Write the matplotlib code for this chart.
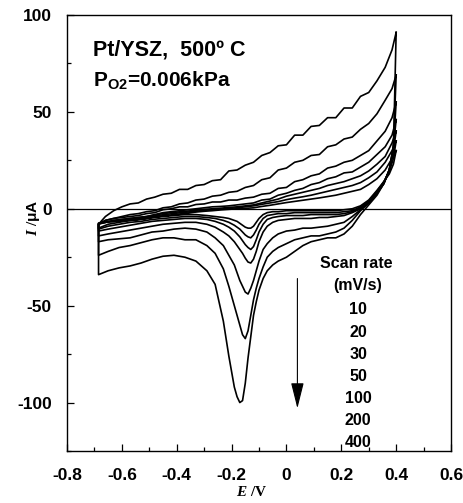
import matplotlib
matplotlib.use("Agg")
import matplotlib.pyplot as plt
from matplotlib.ticker import MultipleLocator

plt.rcParams["font.family"] = "Liberation Sans"
plt.rcParams["axes.unicode_minus"] = False
plt.rcParams["mathtext.fontset"] = "custom"
plt.rcParams["mathtext.rm"] = "Liberation Serif:bold"
plt.rcParams["mathtext.it"] = "Liberation Serif:italic:bold"
plt.rcParams["mathtext.sf"] = "Liberation Sans:bold"

# ------------------------------------------------------------
# digitised cyclic voltammograms (E in V, I in uA)
# reverse scan (0.40 V -> -0.685 V), shared potential grid
E_REV = [0.40, 0.385, 0.36, 0.33, 0.30, 0.27, 0.24, 0.21, 0.18, 0.15,
         0.12, 0.09, 0.06, 0.03, 0.00, -0.03, -0.06, -0.09, -0.12, -0.15,
         -0.18, -0.21, -0.24, -0.27, -0.30, -0.33, -0.36, -0.39, -0.42, -0.45,
         -0.48, -0.51, -0.54, -0.57, -0.60, -0.63, -0.66, -0.685]
# forward scan (-0.685 V -> 0.40 V), shared potential grid
E_FWD = [-0.685, -0.65, -0.61, -0.57, -0.53, -0.49, -0.45, -0.41, -0.37, -0.33,
         -0.29, -0.26, -0.23, -0.21, -0.19, -0.18, -0.17, -0.16, -0.15, -0.14,
         -0.13, -0.12, -0.11, -0.10, -0.085, -0.07, -0.05, -0.03, 0.00, 0.03,
         0.06, 0.09, 0.12, 0.15, 0.18, 0.21, 0.24, 0.27, 0.30, 0.33,
         0.355, 0.375, 0.39, 0.40]

SCAN_RATES = ["10", "20", "30", "50", "100", "200", "400"]

I_REV_10 = [30, 26, 20, 15.5, 12.5, 10, 9, 8, 7, 6.3,
            5.6, 5, 4.4, 3.8, 3.2, 2.5, 1.8, 1.2, 0.5, 0.2,
            0, -0.3, -0.6, -1, -1.3, -1.7, -2.2, -2.7, -3.2, -3.7,
            -4.3, -5, -5.5, -6, -6, -6.5, -7, -7.5]
I_REV_20 = [35, 30, 24, 19, 16, 13.5, 12, 11, 10, 9,
            8, 7, 6.2, 5.5, 4.7, 3.7, 3, 2.3, 1.5, 1,
            0.5, 0.2, -0.2, -0.5, -0.8, -1.3, -1.7, -2.1, -2.6, -3.1,
            -3.7, -4.5, -5, -5.5, -6, -6.5, -7, -7.5]
I_REV_30 = [40, 34, 27, 23, 19.5, 17, 15.5, 14, 13, 12,
            10.5, 9.5, 8.5, 7.5, 6.5, 5, 4, 3, 2, 1.5,
            1, 0.7, 0.3, 0, -0.3, -0.8, -1.2, -1.6, -2, -2.5,
            -3.2, -4, -4.5, -5, -5.5, -6, -7, -7.5]
I_REV_50 = [46, 38, 32, 28, 24, 21.5, 19, 18.5, 16.5, 15.5,
            13.5, 12.5, 10.5, 9.5, 8, 7, 5, 4.5, 3, 2.5,
            2, 1.5, 1.2, 1, 0.5, 0, -0.5, -1, -1.5, -2,
            -3, -4, -4.5, -5, -5.5, -6, -7, -8]
I_REV_100 = [55, 47, 40, 35, 30, 27.5, 25, 24, 22, 21,
             18, 17, 15, 14, 11, 10.5, 8, 7.5, 6, 5.5,
             4.5, 4.5, 3.5, 3.5, 2.5, 2.2, 1, 1, 0, -0.5,
             -2, -2.5, -3.5, -4, -4.5, -5, -6, -8]
I_REV_200 = [69, 62, 56, 49, 44, 41, 37, 36, 33, 32,
             28, 27.5, 25, 24, 21, 20, 16, 15, 12, 11,
             9, 8.5, 7, 6.5, 5, 4.5, 3, 2.5, 1, 0.5,
             -1, -1.5, -2.5, -3, -4, -5, -6, -8]
I_REV_400 = [91, 82, 73, 66, 60, 58, 52, 52, 47, 47,
             43, 42.5, 38, 38, 33, 32.5, 29, 27.5, 24, 22.5,
             20, 19.5, 15, 14.5, 12.5, 12, 10, 10, 8, 7.5,
             6, 5, 3, 2.5, 1, -1, -4, -8]

I_FWD_10 = [-10, -8, -7, -6, -5.5, -4.5, -4, -3.5, -3, -3,
            -3.5, -4, -4.5, -5, -6, -6.5, -7.5, -8.5, -9.5, -10,
            -10, -9, -7, -5, -3, -2, -1.5, -1.5, -1, -1,
            -1, -1, -1, -1, -1, -0.5, 0, 1.5, 4.5, 9.5,
            14, 18, 23, 30]
I_FWD_20 = [-10.5, -9, -8, -7, -6.5, -5.5, -5, -4.5, -4, -4,
            -4.5, -5, -6, -7, -8.5, -9.5, -10.5, -12, -13.5, -14.5,
            -15, -13.5, -11, -8, -5, -3.5, -3, -2.5, -2.5, -2,
            -2, -2, -2, -2, -2, -1.5, -1, 1, 4, 9,
            14, 19, 26, 35]
I_FWD_30 = [-11.5, -10.5, -9.5, -8.5, -7.5, -6.5, -6, -5.5, -5, -5,
            -5.5, -6.5, -8, -9.5, -11.5, -13, -14.5, -16.5, -18.5, -20,
            -21, -19.5, -16, -12, -8, -5.5, -4.5, -4, -3.5, -3.5,
            -3.5, -3, -3, -3, -3, -2.5, -1.5, 0.5, 3.5, 8.5,
            13.5, 20, 30, 40]
I_FWD_50 = [-14, -13, -12, -11, -10, -9, -8, -7.5, -7, -7,
            -8, -9.5, -12, -14, -17, -19, -21, -23, -25.5, -27.5,
            -28, -26, -22, -17, -12, -9, -7, -6, -5.5, -5,
            -5, -5, -4.5, -4.5, -4, -3.5, -2, 0, 3, 8,
            13, 20, 32, 46]
I_FWD_100 = [-17, -16, -15.5, -15, -13.5, -12, -11.5, -10.5, -10, -10.5,
             -12, -15, -19, -24, -29, -33, -37, -40, -43, -44,
             -41, -37, -32, -27, -21, -18, -15, -13, -11.5, -11,
             -10, -10, -9.5, -9, -8, -7, -4, -0.5, 3, 8,
             13, 20, 32, 55]
I_FWD_200 = [-24, -22, -20, -19, -17.5, -16, -15, -15, -16, -16,
             -19, -23, -31, -40, -50, -55, -60, -65, -67, -63,
             -55, -47, -41, -36, -30, -25, -22, -20, -18, -16,
             -15, -14, -14, -13, -12, -10, -6, -1, 3, 8,
             13, 20, 32, 69]
I_FWD_400 = [-34, -32, -30.5, -29.5, -28, -26, -24.5, -24, -25, -27,
             -32, -39, -58, -76, -92, -97, -100, -99, -90, -77,
             -66, -55, -48, -42, -36, -32, -29, -27, -25, -22,
             -19, -17, -16, -15, -15, -13, -9, -3, 2, 7,
             13, 20, 30, 91]

REV = [I_REV_10, I_REV_20, I_REV_30, I_REV_50, I_REV_100, I_REV_200, I_REV_400]
FWD = [I_FWD_10, I_FWD_20, I_FWD_30, I_FWD_50, I_FWD_100, I_FWD_200, I_FWD_400]

# ------------------------------------------------------------
fig = plt.figure(figsize=(4.63, 5.03), dpi=100)
ax = fig.add_axes([0.1447, 0.1034, 0.8294, 0.8668])

for i_rev, i_fwd in zip(REV, FWD):
    ax.plot(E_REV + E_FWD, i_rev + i_fwd, color="black", lw=1.2,
            solid_joinstyle="round")

ax.axhline(0, color="black", lw=0.9)

ax.set_xlim(-0.8, 0.6)
ax.set_ylim(-125, 100)
ax.xaxis.set_major_locator(MultipleLocator(0.2))
ax.xaxis.set_minor_locator(MultipleLocator(0.1))
ax.yaxis.set_major_locator(MultipleLocator(50))
ax.yaxis.set_minor_locator(MultipleLocator(25))
ax.tick_params(which="both", direction="in", top=False, right=False, width=0.9)
ax.tick_params(which="major", length=5, labelsize=12.5)
ax.tick_params(which="minor", length=3)
ax.tick_params(axis="x", which="major", pad=12)
ax.tick_params(axis="y", which="major", pad=11)
ax.set_xticks(ax.get_xticks())
ax.set_xticklabels(["0" if abs(t) < 1e-9 else f"{t:.1f}" for t in ax.get_xticks()])
ax.set_xlim(-0.8, 0.6)
for lab in ax.get_xticklabels() + ax.get_yticklabels():
    lab.set_fontweight("bold")
for sp in ax.spines.values():
    sp.set_linewidth(1.0)

ax.set_xlabel(r"$E\ /\mathrm{V}$", fontsize=11)
ax.set_ylabel(r"$I\ /\mathsf{\mu A}$", fontsize=11)
ax.xaxis.set_label_coords(0.482, -0.077)
ax.yaxis.set_label_coords(-0.065, 0.534)

ax.text(0.068, 0.92, "Pt/YSZ,  500º C", transform=ax.transAxes,
        fontsize=15.5, fontweight="bold", va="center", ha="left")
ax.text(0.068, 0.851, r"P$_{\mathsf{O2}}$=0.006kPa", transform=ax.transAxes,
        fontsize=15, fontweight="bold", va="center", ha="left")

# scan-rate legend
ax.text(0.752, 0.43, "Scan rate", transform=ax.transAxes,
        fontsize=11.5, fontweight="bold", ha="center", va="center")
ax.text(0.757, 0.38, "(mV/s)", transform=ax.transAxes,
        fontsize=11.5, fontweight="bold", ha="center", va="center")
for k, rate in enumerate(SCAN_RATES):
    ax.text(0.758, 0.3234 - k * 0.0505, rate, transform=ax.transAxes,
            fontsize=11.5, fontweight="bold", ha="center", va="center")

ax.annotate("", xy=(0.04, -103), xytext=(0.04, -36),
            arrowprops=dict(arrowstyle="-|>,head_length=1.6,head_width=0.4",
                            mutation_scale=10, lw=0.8, color="black",
                            shrinkA=0, shrinkB=0))

fig.savefig("out.png", dpi=100)
